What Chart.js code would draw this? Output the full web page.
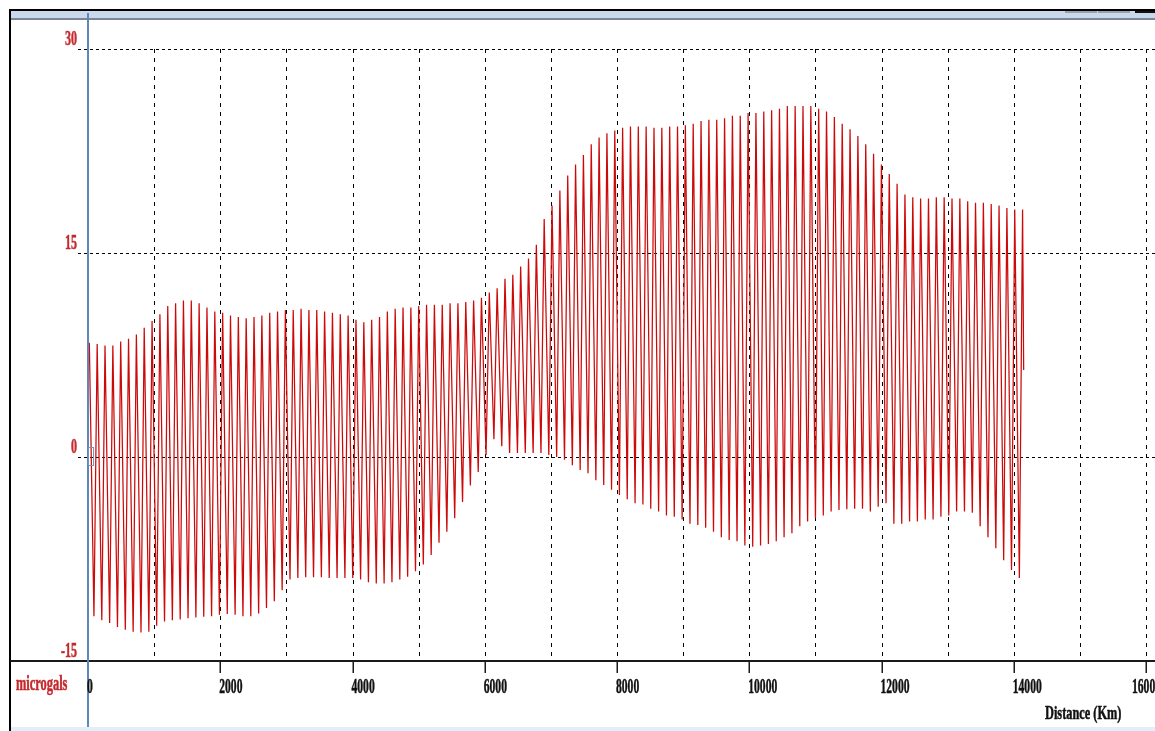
<!DOCTYPE html>
<html>
<head>
<meta charset="utf-8">
<script src="https://cdn.jsdelivr.net/npm/chart.js@4.4.1/dist/chart.umd.min.js"></script>
<style>
    body { margin: 0; background: #fff; }
    #wrap { width: 1155px; height: 731px; position: relative; }
</style>
</head>
<body>
<div id="wrap"><canvas id="gravityChart"></canvas></div>
<script>
// tidal gravity record, microgals vs distance (km)
const firstPeakKm = 20;
const cycleKm = 118.6;
const troughOffsetKm = 70;

const peaks = [
    8.4, 8.3, 8.2, 8.2, 8.5, 8.7, 9.0, 9.5, 10.0, 10.5,
    11.1, 11.3, 11.5, 11.5, 11.3, 11.0, 10.7, 10.6, 10.4, 10.3,
    10.2, 10.3, 10.4, 10.6, 10.7, 10.8, 10.8, 10.9, 10.8, 10.8,
    10.7, 10.6, 10.5, 10.4, 10.1, 9.9, 10.1, 10.3, 10.7, 10.9,
    11.0, 11.0, 11.1, 11.2, 11.2, 11.2, 11.3, 11.3, 11.4, 11.5,
    11.7, 12.1, 12.4, 13.1, 13.4, 14.0, 14.6, 15.6, 17.5, 18.5,
    19.6, 20.7, 21.5, 22.2, 23.0, 23.5, 23.8, 24.0, 24.2, 24.3,
    24.3, 24.3, 24.2, 24.2, 24.3, 24.3, 24.4, 24.5, 24.7, 24.8,
    24.8, 24.9, 25.1, 25.1, 25.3, 25.3, 25.4, 25.5, 25.6, 25.8,
    25.8, 25.8, 25.8, 25.6, 25.4, 25.0, 24.5, 24.1, 23.6, 23.0,
    22.3, 21.5, 20.8, 20.1, 19.3, 19.1, 19.0, 19.0, 19.1, 19.1,
    19.0, 19.0, 18.8, 18.7, 18.7, 18.6, 18.5, 18.3, 18.2, 18.2
];

const troughs = [
    -11.7, -12.0, -12.2, -12.5, -12.7, -12.85, -12.9, -12.85, -12.4, -12.1,
    -12.0, -11.95, -11.85, -11.8, -11.75, -11.7, -11.6, -11.55, -11.6, -11.7,
    -11.7, -11.5, -11.1, -10.6, -9.8, -9.0, -8.9, -8.85, -8.85, -8.85,
    -8.9, -8.9, -8.9, -8.9, -9.0, -9.2, -9.3, -9.3, -9.2, -9.0,
    -8.8, -8.4, -7.9, -7.2, -6.3, -5.5, -4.5, -3.3, -2.1, -1.1,
    0.15, 1.3, 0.8, 0.3, 0.3, 0.3, 0.3, 0.3, 0.15, 0.0,
    -0.2, -0.6, -0.95, -1.2, -1.7, -2.05, -2.4, -2.8, -3.1, -3.4,
    -3.5, -3.8, -4.0, -4.3, -4.4, -4.6, -4.9, -5.0, -5.2, -5.5,
    -5.9, -6.1, -6.2, -6.5, -6.6, -6.5, -6.4, -6.2, -5.9, -5.6,
    -5.1, -4.75, -4.5, -4.3, -4.0, -3.9, -3.85, -3.8, -3.8, -4.0,
    -3.65, -3.4, -4.9, -4.9, -4.75, -4.75, -4.6, -4.6, -4.4, -4.3,
    -4.0, -4.0, -4.1, -5.1, -5.9, -6.7, -7.6, -8.3, -8.9
];

const endKm = 14150;
const endValue = 6.4;

const xGrid = [1000, 2000, 3000, 4000, 5000, 6000, 7000, 8000, 9000, 10000, 11000, 12000, 13000, 14000, 15000, 16000];
const xTicks = [0, 2000, 4000, 6000, 8000, 10000, 12000, 14000, 16000];
const yGrid = [30, 15, 0];
const yTicks = [30, 15, 0, -15];

const xTitle = 'Distance (Km)';
const yTitle = 'microgals';

const W = 1155, H = 731;
const red = '#c42a2e';

// peak, trough, peak, ... in distance order
const points = [];
for (let i = 0; i < peaks.length; i++) {
    const km = firstPeakKm + i * cycleKm;
    points.push({x: km, y: peaks[i]});
    if (i < troughs.length) {
        points.push({x: km + troughOffsetKm, y: troughs[i]});
    }
}
points.push({x: endKm, y: endValue});

function label(c, text, x, y, align, color, size, sx) {
    c.save();
    c.font = 'bold ' + size + 'px "Liberation Serif", "Times New Roman", serif';
    c.textAlign = align;
    c.textBaseline = 'alphabetic';
    // keep the last label inside the window, like the original plot does
    const w = c.measureText(text).width * sx;
    if (align === 'left' && x + w > W + 6) {
        x = W + 6 - w;
    }
    c.translate(x, y);
    c.scale(sx, 1);
    c.fillStyle = color;
    c.strokeStyle = color;
    c.lineWidth = 0.5;
    c.fillText(text, 0, 0);
    c.strokeText(text, 0, 0);
    c.restore();
}

const frame = {
    id: 'frame',
    beforeDraw(chart) {
        const c = chart.ctx;
        const xs = chart.scales.x;
        const ys = chart.scales.y;
        c.save();
        c.fillStyle = '#fff';
        c.fillRect(0, 0, W, H);

        // window band at the top
        c.fillStyle = '#c9d8ea';
        c.fillRect(10, 11, W - 10, 7);
        c.fillStyle = '#7b8594';
        c.fillRect(10, 18, W - 10, 2);
        c.fillStyle = '#9aa0a8';
        c.fillRect(1065, 10, 32, 3);
        c.fillRect(1098, 10, 32, 3);
        c.fillStyle = '#111';
        c.fillRect(1135, 10, 20, 3);

        // bottom strip
        c.fillStyle = '#e4eef9';
        c.fillRect(11, 727, W - 11, 4);

        // black frame
        c.fillStyle = '#000';
        c.fillRect(9, 9, W - 9, 2);
        c.fillRect(9, 9, 2, H - 9);

        // dashed grid
        c.strokeStyle = '#000';
        c.lineWidth = 1;
        const top = ys.getPixelForValue(30);
        const bottom = ys.getPixelForValue(-15);
        c.setLineDash([4, 5]);
        xGrid.forEach(v => {
            const px = Math.round(xs.getPixelForValue(v)) + 0.5;
            c.beginPath();
            c.moveTo(px, top);
            c.lineTo(px, bottom);
            c.stroke();
        });
        c.setLineDash([3, 3]);
        yGrid.forEach(v => {
            const py = Math.round(ys.getPixelForValue(v)) + 0.5;
            c.beginPath();
            c.moveTo(78, py);
            c.lineTo(W, py);
            c.stroke();
        });
        c.restore();
    },
    afterDatasetsDraw(chart) {
        const c = chart.ctx;
        const xs = chart.scales.x;
        const ys = chart.scales.y;
        const axisY = Math.round(ys.getPixelForValue(-15));
        c.save();

        // x axis line across the whole window
        c.fillStyle = '#1a1a1a';
        c.fillRect(10, axisY - 1, W - 10, 2);
        xTicks.forEach(v => {
            const px = Math.round(xs.getPixelForValue(v));
            c.fillRect(px - 0.5, axisY, 1.5, 12);
        });

        // blue y axis
        const x0 = xs.getPixelForValue(0);
        c.fillStyle = '#5d88b8';
        c.fillRect(x0 - 1, 13, 2, 714);
        c.strokeStyle = '#6f95c2';
        c.lineWidth = 1;
        c.strokeRect(x0 + 0.5, ys.getPixelForValue(0) - 9.5, 5, 18);

        // tick labels
        xTicks.forEach(v => {
            label(c, String(v), xs.getPixelForValue(v) - 1, 693, 'left', '#111', 20, 0.58);
        });
        yTicks.forEach(v => {
            label(c, String(v), 77, ys.getPixelForValue(v) - 4, 'right', red, 20, 0.6);
        });
        label(c, yTitle, 16, 690, 'left', red, 20, 0.62);
        label(c, xTitle, 1045, 719, 'left', '#111', 19, 0.65);
        c.restore();
    }
};

const ctx = document.getElementById('gravityChart').getContext('2d');
const gravityChart = new Chart(ctx, {
    type: 'line',
    data: {
        datasets: [{
            data: points,
            borderColor: 'rgb(204, 10, 10)',
            borderWidth: 1.25,
            pointRadius: 0,
            tension: 0,
            fill: false
        }]
    },
    options: {
        responsive: true,
        maintainAspectRatio: false,
        animation: false,
        devicePixelRatio: 1,
        layout: {
            padding: {left: 88, top: 49, right: 0, bottom: 70}
        },
        plugins: {
            legend: {display: false},
            tooltip: {enabled: false}
        },
        scales: {
            x: {type: 'linear', display: false, min: 0, max: 16136},
            y: {type: 'linear', display: false, min: -15, max: 30}
        }
    },
    plugins: [frame]
});
</script>
</body>
</html>
